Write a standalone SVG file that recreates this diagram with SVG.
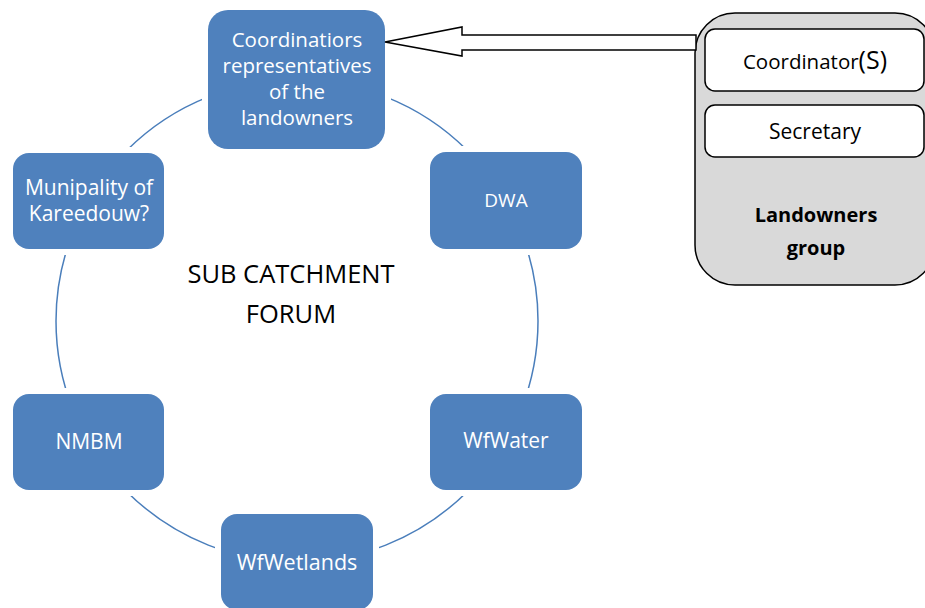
<svg xmlns="http://www.w3.org/2000/svg" width="925" height="608" viewBox="0 0 925 608">
<style>
.node{fill:#4f81bd;stroke:none}
.halo{fill:#fff;stroke:#fff;stroke-width:12}
.nt{font-family:"Open Sans","Liberation Sans",Arial,sans-serif;fill:#fff;text-anchor:middle}
.dk{font-family:"Open Sans","Liberation Sans",Arial,sans-serif;fill:#000;text-anchor:middle}
.ring{fill:none;stroke:#4a7ebb;stroke-width:1.5}
</style>
<rect width="925" height="608" fill="#fff"/>
<g id="connectors">
<circle class="ring" cx="297" cy="321" r="241"/>
</g>
<g id="halos">
<rect class="halo" x="208" y="10" width="177" height="139" rx="20"/>
<rect class="halo" x="13" y="153" width="151" height="96" rx="16"/>
<rect class="halo" x="430" y="152" width="152" height="97" rx="16"/>
<rect class="halo" x="13" y="394" width="151" height="96" rx="16"/>
<rect class="halo" x="430" y="394" width="152" height="96" rx="16"/>
<rect class="halo" x="221" y="514" width="152" height="96" rx="16"/>
</g>
<g id="n-coord">
<rect class="node" x="208" y="10" width="177" height="139" rx="20"/>
<text class="nt" font-size="20.5" x="297" y="47">Coordinatiors</text>
<text class="nt" font-size="20.5" x="297" y="73">representatives</text>
<text class="nt" font-size="20.5" x="297" y="99">of the</text>
<text class="nt" font-size="20.5" x="297" y="125">landowners</text>
</g>
<g id="n-muni">
<rect class="node" x="13" y="153" width="151" height="96" rx="16"/>
<text class="nt" font-size="21" x="89" y="195">Munipality of</text>
<text class="nt" font-size="21" x="89" y="221">Kareedouw?</text>
</g>
<g id="n-dwa">
<rect class="node" x="430" y="152" width="152" height="97" rx="16"/>
<text class="nt" font-size="19" x="506" y="207">DWA</text>
</g>
<g id="n-nmbm">
<rect class="node" x="13" y="394" width="151" height="96" rx="16"/>
<text class="nt" font-size="21" x="89" y="449">NMBM</text>
</g>
<g id="n-wfwater">
<rect class="node" x="430" y="394" width="152" height="96" rx="16"/>
<text class="nt" font-size="21" x="506" y="448">WfWater</text>
</g>
<g id="n-wfwetlands">
<rect class="node" x="221" y="514" width="152" height="96" rx="16"/>
<text class="nt" font-size="21.5" x="297" y="570">WfWetlands</text>
</g>
<g id="forum-label">
<text class="dk" font-size="25.5" x="291" y="283">SUB CATCHMENT</text>
<text class="dk" font-size="25.5" x="291" y="323">FORUM</text>
</g>
<g id="landowners-group">
<rect x="695" y="13" width="240" height="272" rx="40" fill="#d9d9d9" stroke="#000" stroke-width="1.5"/>
<rect x="705" y="29" width="219" height="62" rx="10" fill="#fff" stroke="#000" stroke-width="1.5"/>
<text class="dk" font-size="20.5" x="815" y="69">Coordinator<tspan font-size="25">(S)</tspan></text>
<rect x="705" y="105" width="219" height="52" rx="10" fill="#fff" stroke="#000" stroke-width="1.5"/>
<text class="dk" font-size="21" x="815" y="139">Secretary</text>
<text class="dk" font-size="20" font-weight="bold" x="816" y="222">Landowners</text>
<text class="dk" font-size="20" font-weight="bold" x="816" y="255">group</text>
</g>
<g id="arrow">
<polygon points="385,42 462,27 462,35 696,35 696,50 462,50 462,56" fill="#fff" stroke="#000" stroke-width="1.5" stroke-linejoin="miter"/>
</g>
</svg>
